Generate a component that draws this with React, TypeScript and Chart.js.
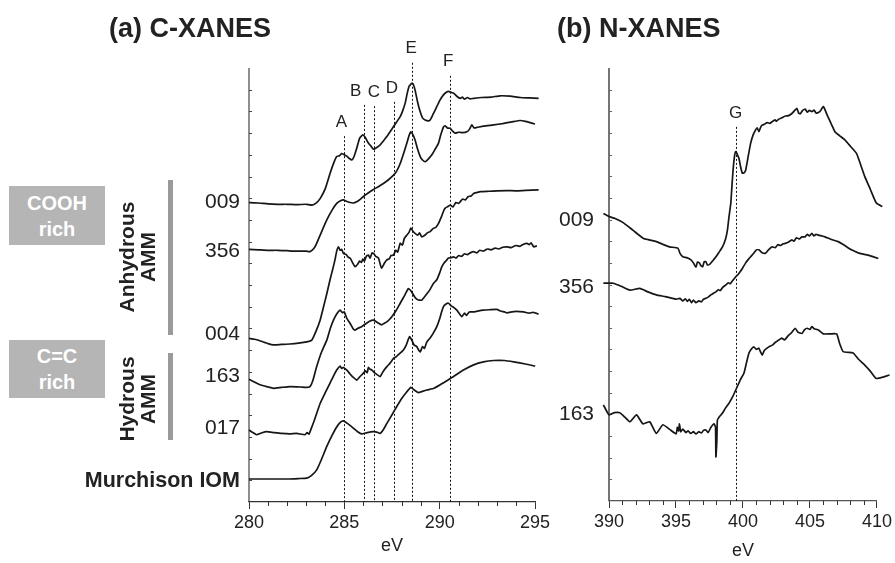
import React, { useEffect, useRef } from "react";
import { Chart, registerables } from "chart.js";

Chart.register(...registerables);

const FONT = 'Arial, "Liberation Sans", Helvetica, sans-serif';

// ---------- C-XANES (energy eV, normalized absorbance + offset) ----------
const cEnergyTicks = [280, 285, 290, 295];

const c009: number[][] = [
  [280.0, 6.9], [280.5, 6.89], [281.0, 6.87], [281.5, 6.86], [282.0, 6.86], [282.5, 6.85], [283.0, 6.86], [283.3, 6.84],
  [283.5, 6.88], [283.73, 6.99], [284.0, 7.22], [284.25, 7.57], [284.45, 7.82], [284.6, 7.96], [284.75, 7.98], [284.86, 8.03],
  [285.0, 8.0], [285.13, 7.97], [285.25, 7.92], [285.39, 7.88], [285.5, 7.95], [285.65, 8.15], [285.8, 8.38], [285.97, 8.46],
  [286.1, 8.4], [286.26, 8.27], [286.4, 8.2], [286.53, 8.13], [286.7, 8.17], [286.88, 8.23], [287.05, 8.32], [287.23, 8.42],
  [287.4, 8.53], [287.58, 8.65], [287.75, 8.76], [287.93, 8.88], [288.05, 9.0], [288.19, 9.19], [288.3, 9.42], [288.4, 9.58],
  [288.54, 9.65], [288.62, 9.62], [288.71, 9.49], [288.85, 9.2], [288.98, 8.99], [289.1, 8.85], [289.24, 8.8], [289.4, 8.78],
  [289.5, 8.8], [289.65, 8.93], [289.85, 9.11], [290.0, 9.25], [290.2, 9.38], [290.35, 9.44], [290.46, 9.46], [290.6, 9.44],
  [290.73, 9.42], [290.9, 9.35], [291.08, 9.3], [291.2, 9.33], [291.3, 9.28], [291.45, 9.32], [291.6, 9.29], [291.78, 9.3],
  [292.2, 9.32], [292.7, 9.33], [293.18, 9.36], [293.7, 9.35], [294.23, 9.32], [294.7, 9.31], [295.19, 9.3],
];

const c356: number[][] = [
  [280.0, 5.82], [280.5, 5.81], [281.0, 5.8], [281.5, 5.8], [282.0, 5.79], [282.5, 5.78], [283.0, 5.78], [283.2, 5.77],
  [283.4, 5.84], [283.55, 5.96], [283.8, 6.22], [284.08, 6.5], [284.35, 6.72], [284.6, 6.88], [284.8, 6.94], [284.95, 6.96],
  [285.1, 6.93], [285.3, 6.9], [285.45, 6.89], [285.65, 6.92], [285.85, 6.98], [286.0, 7.04], [286.25, 7.12], [286.53, 7.2],
  [286.8, 7.27], [287.05, 7.34], [287.3, 7.42], [287.58, 7.53], [287.75, 7.63], [287.93, 7.8], [288.1, 8.02], [288.28, 8.27],
  [288.4, 8.45], [288.49, 8.53], [288.6, 8.46], [288.71, 8.34], [288.85, 8.12], [288.98, 7.96], [289.1, 7.88], [289.24, 7.84],
  [289.4, 7.9], [289.59, 8.0], [289.75, 8.12], [289.94, 8.27], [290.05, 8.45], [290.11, 8.53], [290.2, 8.64], [290.29, 8.67],
  [290.4, 8.62], [290.55, 8.61], [290.65, 8.56], [290.81, 8.5], [291.0, 8.52], [291.2, 8.51], [291.43, 8.53], [291.55, 8.58],
  [291.69, 8.69], [291.8, 8.62], [291.95, 8.63], [292.3, 8.66], [292.83, 8.69], [293.3, 8.72], [293.8, 8.76], [294.23, 8.79],
  [294.5, 8.77], [294.75, 8.74], [295.0, 8.71], [295.19, 8.69],
];

const c004: number[][] = [
  [280.0, 3.77], [280.3, 3.75], [280.6, 3.71], [281.0, 3.65], [281.28, 3.62], [281.7, 3.63], [282.15, 3.64], [282.6, 3.66],
  [283.03, 3.69], [283.29, 3.73], [283.5, 3.92], [283.73, 4.19], [283.9, 4.48], [284.08, 4.8], [284.25, 5.12], [284.4, 5.38],
  [284.51, 5.58], [284.6, 5.78], [284.69, 5.88], [284.78, 5.8], [284.86, 5.82], [284.95, 5.73], [285.1, 5.7], [285.2, 5.64],
  [285.3, 5.62], [285.45, 5.5], [285.56, 5.42], [285.7, 5.48], [285.8, 5.55], [285.9, 5.52], [285.97, 5.6], [286.05, 5.55],
  [286.15, 5.66], [286.26, 5.69], [286.35, 5.62], [286.45, 5.74], [286.53, 5.73], [286.65, 5.66], [286.79, 5.62], [286.9, 5.45],
  [286.96, 5.39], [287.1, 5.5], [287.23, 5.58], [287.35, 5.6], [287.45, 5.68], [287.58, 5.69], [287.7, 5.8], [287.8, 5.76],
  [287.93, 5.96], [288.05, 5.92], [288.15, 6.08], [288.28, 6.15], [288.4, 6.22], [288.49, 6.31], [288.6, 6.24], [288.71, 6.19],
  [288.85, 6.15], [288.95, 6.2], [289.06, 6.11], [289.2, 6.14], [289.35, 6.2], [289.5, 6.23], [289.65, 6.3], [289.8, 6.33],
  [289.94, 6.42], [290.1, 6.58], [290.2, 6.7], [290.29, 6.77], [290.4, 6.8], [290.55, 6.84], [290.7, 6.8], [290.85, 6.9],
  [291.0, 6.88], [291.08, 6.92], [291.2, 6.98], [291.35, 6.96], [291.5, 7.04], [291.65, 7.05], [291.78, 7.11], [291.95, 7.13],
  [292.13, 7.15], [292.6, 7.16], [293.0, 7.17], [293.53, 7.175], [294.0, 7.17], [294.5, 7.18], [295.19, 7.19],
];

const c163: number[][] = [
  [280.0, 2.83], [280.3, 2.76], [280.58, 2.7], [281.0, 2.65], [281.28, 2.62], [281.7, 2.64], [282.15, 2.66], [282.7, 2.65],
  [283.0, 2.64], [283.2, 2.66], [283.35, 2.8], [283.55, 3.12], [283.8, 3.45], [284.08, 3.73], [284.25, 3.98], [284.43, 4.19],
  [284.6, 4.33], [284.78, 4.42], [284.9, 4.36], [285.0, 4.38], [285.13, 4.23], [285.3, 4.12], [285.45, 4.0], [285.56, 3.96],
  [285.7, 4.0], [285.91, 4.04], [286.1, 4.1], [286.3, 4.16], [286.53, 4.19], [286.75, 4.13], [286.96, 4.08], [287.1, 4.12],
  [287.23, 4.15], [287.35, 4.2], [287.49, 4.27], [287.7, 4.4], [287.93, 4.58], [288.15, 4.75], [288.36, 4.92], [288.5, 4.86],
  [288.7, 4.72], [288.85, 4.66], [289.06, 4.65], [289.3, 4.78], [289.5, 4.9], [289.68, 5.04], [289.85, 5.12], [290.0, 5.28],
  [290.11, 5.42], [290.25, 5.52], [290.38, 5.58], [290.46, 5.62], [290.6, 5.63], [290.73, 5.65], [290.85, 5.62], [291.0, 5.68],
  [291.15, 5.66], [291.3, 5.72], [291.45, 5.7], [291.6, 5.74], [291.78, 5.77], [291.95, 5.74], [292.1, 5.8], [292.3, 5.78],
  [292.5, 5.83], [292.7, 5.81], [292.9, 5.85], [293.1, 5.83], [293.3, 5.87], [293.53, 5.88], [293.75, 5.86], [294.0, 5.91],
  [294.2, 5.89], [294.4, 5.94], [294.58, 5.96], [294.7, 5.93], [294.8, 5.97], [294.93, 5.88], [295.1, 5.9],
];

const c017: number[][] = [
  [280.0, 1.66], [280.2, 1.6], [280.4, 1.55], [280.65, 1.59], [280.93, 1.62], [281.3, 1.6], [281.7, 1.58], [282.15, 1.57],
  [282.5, 1.58], [282.94, 1.55], [283.05, 1.6], [283.15, 1.56], [283.2, 1.62], [283.4, 1.85], [283.73, 2.27], [284.0, 2.52],
  [284.25, 2.74], [284.45, 2.92], [284.6, 3.04], [284.7, 3.1], [284.78, 3.13], [284.85, 3.08], [284.95, 3.1], [285.13, 3.04],
  [285.3, 2.95], [285.45, 2.88], [285.65, 2.81], [285.8, 2.88], [286.0, 2.97], [286.1, 3.02], [286.2, 2.98], [286.26, 3.1],
  [286.35, 3.06], [286.45, 3.04], [286.53, 3.0], [286.7, 2.94], [286.88, 2.89], [287.0, 2.98], [287.1, 3.05], [287.23, 3.12],
  [287.4, 3.2], [287.58, 3.31], [287.7, 3.34], [287.85, 3.4], [288.0, 3.46], [288.1, 3.5], [288.25, 3.62], [288.35, 3.74],
  [288.42, 3.81], [288.55, 3.72], [288.65, 3.62], [288.8, 3.58], [288.9, 3.5], [288.98, 3.46], [289.1, 3.58], [289.2, 3.54],
  [289.33, 3.69], [289.5, 3.78], [289.65, 3.88], [289.85, 4.04], [290.0, 4.22], [290.1, 4.38], [290.2, 4.5], [290.3, 4.55],
  [290.46, 4.58], [290.6, 4.52], [290.75, 4.48], [290.9, 4.42], [291.0, 4.36], [291.16, 4.27], [291.3, 4.35], [291.4, 4.3],
  [291.55, 4.38], [291.78, 4.38], [292.0, 4.4], [292.3, 4.42], [292.6, 4.43], [293.0, 4.44], [293.2, 4.4], [293.4, 4.38],
  [293.53, 4.36], [293.8, 4.38], [294.0, 4.39], [294.4, 4.38], [294.7, 4.35], [294.9, 4.37], [295.19, 4.33],
];

const cMurchison: number[][] = [
  [280.0, 0.53], [281.0, 0.53], [282.0, 0.53], [282.6, 0.54], [283.03, 0.55], [283.3, 0.62], [283.55, 0.74], [283.8, 0.98],
  [284.08, 1.28], [284.35, 1.53], [284.6, 1.73], [284.8, 1.84], [284.95, 1.87], [285.2, 1.8], [285.48, 1.7], [285.7, 1.62],
  [285.91, 1.57], [286.2, 1.6], [286.53, 1.62], [286.7, 1.61], [286.88, 1.58], [287.05, 1.67], [287.23, 1.81], [287.5, 2.01],
  [287.75, 2.2], [288.0, 2.38], [288.28, 2.54], [288.49, 2.64], [288.7, 2.57], [288.89, 2.52], [289.1, 2.55], [289.33, 2.58],
  [289.7, 2.62], [290.03, 2.7], [290.4, 2.8], [290.73, 2.89], [291.2, 3.03], [291.78, 3.16], [292.3, 3.23], [292.83, 3.26],
  [293.4, 3.26], [293.88, 3.23], [294.5, 3.18], [295.01, 3.13],
];

const cPeakLabels = ["A", "B", "C", "D", "E", "F"];
const cPeakEnergies = [285.0, 286.05, 286.55, 287.6, 288.55, 290.55];
const cPeakTops = [8.43, 9.15, 9.12, 9.22, 10.12, 9.82];
const cPeakLabelEnergies = [284.85, 285.6, 286.55, 287.5, 288.5, 290.45];

// ---------- N-XANES ----------
const nEnergyTicks = [390, 395, 400, 405, 410];

const n009: number[][] = [
  [389.58, 6.64], [390.0, 6.57], [390.5, 6.52], [391.06, 6.43], [391.8, 6.25], [392.54, 6.07], [393.0, 6.03], [393.53, 5.99],
  [394.0, 5.93], [394.52, 5.87], [395.14, 5.84], [395.3, 5.72], [395.51, 5.64], [395.8, 5.62], [396.12, 5.57], [396.3, 5.5],
  [396.49, 5.4], [396.6, 5.52], [396.74, 5.5], [396.85, 5.44], [396.99, 5.41], [397.1, 5.52], [397.23, 5.53], [397.35, 5.45],
  [397.53, 5.47], [397.75, 5.55], [397.98, 5.64], [398.2, 5.74], [398.47, 5.87], [398.7, 6.05], [398.84, 6.26], [398.95, 6.55],
  [399.09, 6.88], [399.18, 7.3], [399.26, 7.64], [399.36, 7.95], [399.46, 8.07], [399.58, 8.0], [399.7, 7.91], [399.82, 7.72],
  [399.95, 7.57], [400.08, 7.58], [400.2, 7.64], [400.4, 7.98], [400.57, 8.26], [400.75, 8.45], [400.94, 8.57], [401.05, 8.62],
  [401.19, 8.53], [401.3, 8.62], [401.43, 8.68], [401.6, 8.7], [401.8, 8.74], [402.0, 8.72], [402.17, 8.76], [402.4, 8.8],
  [402.5, 8.77], [402.67, 8.82], [402.9, 8.85], [403.16, 8.89], [403.4, 8.9], [403.65, 8.95], [403.8, 9.0], [404.02, 9.07],
  [404.15, 8.96], [404.27, 8.94], [404.45, 9.02], [404.64, 9.05], [404.8, 8.98], [404.95, 9.02], [405.14, 8.99], [405.3, 9.03],
  [405.45, 8.96], [405.63, 8.97], [405.8, 9.02], [406.0, 9.11], [406.3, 8.9], [406.6, 8.7], [406.86, 8.53], [407.2, 8.44],
  [407.6, 8.34], [408.0, 8.2], [408.47, 8.03], [408.8, 7.75], [409.09, 7.49], [409.5, 7.2], [409.95, 6.88], [410.4, 6.8],
  [410.94, 6.72],
];

const n356: number[][] = [
  [389.58, 5.03], [390.0, 5.03], [390.32, 5.03], [390.9, 4.96], [391.56, 4.87], [392.3, 4.91], [392.9, 4.83], [393.53, 4.76],
  [394.2, 4.72], [395.01, 4.66], [395.3, 4.68], [395.5, 4.62], [395.7, 4.67], [395.85, 4.61], [396.0, 4.66], [396.15, 4.58],
  [396.3, 4.64], [396.49, 4.58], [396.7, 4.62], [396.9, 4.6], [397.05, 4.66], [397.23, 4.68], [397.45, 4.72], [397.6, 4.76],
  [397.8, 4.8], [397.98, 4.83], [398.15, 4.88], [398.3, 4.86], [398.5, 4.94], [398.72, 4.99], [398.9, 5.04], [399.05, 5.02],
  [399.25, 5.1], [399.46, 5.18], [399.6, 5.22], [399.8, 5.3], [399.95, 5.37], [400.2, 5.5], [400.4, 5.58], [400.57, 5.64],
  [400.8, 5.72], [401.0, 5.8], [401.19, 5.8], [401.4, 5.74], [401.68, 5.72], [401.9, 5.8], [402.17, 5.87], [402.4, 5.85],
  [402.6, 5.92], [402.8, 5.9], [403.0, 5.94], [403.16, 5.95], [403.4, 5.98], [403.65, 6.03], [403.8, 6.0], [404.0, 6.08],
  [404.2, 6.05], [404.4, 6.1], [404.64, 6.1], [404.8, 6.16], [404.95, 6.12], [405.14, 6.18], [405.3, 6.12], [405.45, 6.16],
  [405.63, 6.14], [405.9, 6.12], [406.12, 6.1], [406.6, 6.04], [407.11, 5.99], [407.6, 5.9], [408.1, 5.8], [408.7, 5.72],
  [409.33, 5.68], [410.1, 5.6], [410.94, 5.49],
];

const n163: number[][] = [
  [389.58, 2.22], [390.0, 1.99], [390.4, 2.04], [390.81, 2.04], [391.2, 1.93], [391.56, 1.83], [392.05, 1.99], [392.54, 1.78],
  [393.04, 1.83], [393.53, 1.56], [394.02, 1.76], [394.5, 1.66], [395.01, 1.55], [395.1, 1.7], [395.2, 1.62], [395.26, 1.78],
  [395.35, 1.6], [395.5, 1.66], [395.75, 1.58], [395.9, 1.62], [396.1, 1.56], [396.3, 1.6], [396.49, 1.55], [396.7, 1.6],
  [396.9, 1.57], [397.05, 1.63], [397.23, 1.64], [397.4, 1.58], [397.6, 1.7], [397.85, 1.78], [397.95, 1.7], [397.98, 1.02],
  [398.05, 1.4], [398.09, 1.87], [398.25, 1.95], [398.47, 2.03], [398.7, 2.15], [398.96, 2.26], [399.25, 2.42], [399.57, 2.64],
  [399.8, 2.8], [400.07, 2.95], [400.25, 3.18], [400.44, 3.41], [400.6, 3.5], [400.81, 3.56], [401.0, 3.5], [401.19, 3.53],
  [401.3, 3.45], [401.43, 3.37], [401.6, 3.48], [401.93, 3.56], [402.2, 3.6], [402.4, 3.66], [402.67, 3.72], [402.9, 3.76],
  [403.1, 3.72], [403.41, 3.83], [403.6, 3.88], [403.9, 3.99], [404.1, 3.9], [404.4, 3.87], [404.6, 3.96], [404.8, 3.99],
  [405.0, 3.96], [405.14, 4.03], [405.3, 3.98], [405.63, 3.95], [406.0, 3.86], [406.5, 3.86], [406.99, 3.86], [407.2, 3.65],
  [407.48, 3.45], [408.22, 3.42], [408.6, 3.28], [409.09, 3.14], [409.5, 3.0], [409.95, 2.83], [410.94, 2.91],
];

const nPeakLabels = ["G"];
const nPeakEnergies = [399.5];
const nPeakTops = [8.64];
const nPeakLabelEnergies = [399.45];

// ---------- drawing helpers ----------
type OverlayCfg = {
  peakE: number[];
  peakTop: number[];
  peakLabel: string[];
  peakLabelE: number[];
  axisColor: string;
  axisWidth: number;
  evOffset: number;
};

function makeOverlay(cfg: OverlayCfg) {
  return {
    id: "overlay",
    beforeDatasetsDraw(chart: any) {
      const { ctx, chartArea } = chart;
      const { left, top, right, bottom } = chartArea;
      const xs = chart.scales.x;
      const ys = chart.scales.y;
      ctx.save();
      // y axis line + small inward ticks
      ctx.strokeStyle = cfg.axisColor;
      ctx.lineWidth = cfg.axisWidth;
      ctx.beginPath();
      ctx.moveTo(left, top);
      ctx.lineTo(left, bottom);
      ctx.stroke();
      ctx.lineWidth = 1;
      ctx.beginPath();
      for (let i = 1; i < 20; i++) {
        const py = Math.round(ys.getPixelForValue(ys.min + ((ys.max - ys.min) * i) / 20)) + 0.5;
        ctx.moveTo(left, py);
        ctx.lineTo(left + 3, py);
      }
      ctx.stroke();
      // minor x ticks
      ctx.strokeStyle = "#333";
      ctx.beginPath();
      for (let v = Math.ceil(xs.min); v <= xs.max; v++) {
        if (v % 5 === 0) continue;
        const px = Math.round(xs.getPixelForValue(v)) + 0.5;
        ctx.moveTo(px, bottom);
        ctx.lineTo(px, bottom + 4);
      }
      ctx.stroke();
      // dashed peak markers
      ctx.strokeStyle = "#111";
      ctx.lineWidth = 1;
      ctx.setLineDash([2, 2]);
      cfg.peakE.forEach((e, i) => {
        const px = Math.round(xs.getPixelForValue(e)) + 0.5;
        const pt = ys.getPixelForValue(cfg.peakTop[i]);
        ctx.beginPath();
        ctx.moveTo(px, pt);
        ctx.lineTo(px, bottom);
        ctx.stroke();
      });
      ctx.setLineDash([]);
      ctx.fillStyle = "#222";
      ctx.font = `17px ${FONT}`;
      ctx.textAlign = "center";
      ctx.textBaseline = "middle";
      cfg.peakE.forEach((_e, i) => {
        const px = xs.getPixelForValue(cfg.peakLabelE[i]);
        const pt = ys.getPixelForValue(cfg.peakTop[i]);
        ctx.fillText(cfg.peakLabel[i], px, pt - 14);
      });
      ctx.font = `18px ${FONT}`;
      ctx.fillText("eV", (left + right) / 2, bottom + cfg.evOffset);
      ctx.restore();
    },
  };
}

function makeDatasets(series: number[][][]) {
  return series.map((s) => ({
    data: s.map(([x, y]) => ({ x, y })),
    borderColor: "#161616",
    borderWidth: 1.7,
    pointRadius: 0,
    tension: 0.15,
    fill: false,
    clip: false as const,
  }));
}

function makeConfig(
  series: number[][][],
  ticks: number[],
  pad: { left: number; right: number },
  xHeight: number,
  overlay: OverlayCfg,
  axisColor: string
): any {
  return {
    type: "line",
    data: { datasets: makeDatasets(series) },
    options: {
      animation: false,
      responsive: false,
      maintainAspectRatio: false,
      events: [],
      layout: { padding: { left: pad.left, right: pad.right, top: 68, bottom: 0 } },
      plugins: { legend: { display: false }, tooltip: { enabled: false }, title: { display: false } },
      scales: {
        x: {
          type: "linear",
          min: ticks[0],
          max: ticks[ticks.length - 1],
          afterBuildTicks: (scale: any) => {
            scale.ticks = ticks.map((v) => ({ value: v }));
          },
          ticks: { color: "#222", font: { size: 18, family: FONT }, padding: 3, maxRotation: 0 },
          grid: { drawOnChartArea: false, tickLength: 7, color: "#333", tickWidth: 1 },
          border: { display: true, color: axisColor, width: 1.2 },
          afterFit: (scale: any) => {
            scale.height = xHeight;
          },
        },
        y: { display: false, min: 0, max: 10 },
      },
    },
    plugins: [makeOverlay(overlay)],
  };
}

function Txt(props: {
  x: number;
  y: number;
  text: string;
  size: number;
  bold?: boolean;
  align?: "left" | "right" | "center";
  color?: string;
}) {
  const { x, y, text, size, bold, align = "left", color = "#222" } = props;
  const style: React.CSSProperties = {
    position: "absolute",
    top: y - size / 2,
    fontSize: size,
    lineHeight: `${size}px`,
    fontWeight: bold ? "bold" : "normal",
    whiteSpace: "nowrap",
    color,
  };
  if (align === "right") style.right = 895 - x;
  else if (align === "center") {
    style.left = x;
    style.transform = "translateX(-50%)";
  } else style.left = x;
  return <div style={style}>{text}</div>;
}

export default function App() {
  const leftRef = useRef<HTMLCanvasElement>(null);
  const rightRef = useRef<HTMLCanvasElement>(null);

  useEffect(() => {
    const left = new Chart(
      leftRef.current as HTMLCanvasElement,
      makeConfig(
        [c009, c356, c004, c163, c017, cMurchison],
        cEnergyTicks,
        { left: 249, right: 20 },
        61,
        {
          peakE: cPeakEnergies,
          peakTop: cPeakTops,
          peakLabel: cPeakLabels,
          peakLabelE: cPeakLabelEnergies,
          axisColor: "#444",
          axisWidth: 1.2,
          evOffset: 44,
        },
        "#333"
      )
    );
    const right = new Chart(
      rightRef.current as HTMLCanvasElement,
      makeConfig(
        [n009, n356, n163],
        nEnergyTicks,
        { left: 54, right: 16 },
        62,
        {
          peakE: nPeakEnergies,
          peakTop: nPeakTops,
          peakLabel: nPeakLabels,
          peakLabelE: nPeakLabelEnergies,
          axisColor: "#666",
          axisWidth: 1.8,
          evOffset: 50,
        },
        "#555"
      )
    );
    return () => {
      left.destroy();
      right.destroy();
    };
  }, []);

  const box: React.CSSProperties = {
    position: "absolute",
    left: 9,
    width: 96,
    background: "#b5b5b5",
    color: "#fff",
    fontWeight: "bold",
    fontSize: 20,
    lineHeight: "26px",
    textAlign: "center",
    display: "flex",
    flexDirection: "column",
    justifyContent: "center",
  };
  const rot: React.CSSProperties = {
    position: "absolute",
    transform: "translate(-50%, -50%) rotate(-90deg)",
    fontWeight: "bold",
    fontSize: 21,
    lineHeight: "21px",
    textAlign: "center",
    whiteSpace: "nowrap",
    color: "#222",
  };
  const bar: React.CSSProperties = { position: "absolute", left: 168, width: 5, background: "#9a9a9a" };

  return (
    <div
      style={{
        position: "absolute",
        left: 0,
        top: 0,
        width: 895,
        height: 563,
        background: "#fff",
        fontFamily: FONT,
        overflow: "hidden",
      }}
    >
      <canvas ref={leftRef} width={555} height={563} style={{ position: "absolute", left: 0, top: 0, width: 555, height: 563 }} />
      <canvas ref={rightRef} width={340} height={563} style={{ position: "absolute", left: 555, top: 0, width: 340, height: 563 }} />

      <Txt x={109} y={28} text="(a) C-XANES" size={27} bold />
      <Txt x={557} y={28} text="(b) N-XANES" size={27} bold />

      <div style={{ ...box, top: 186, height: 59 }}>
        <div>COOH</div>
        <div>rich</div>
      </div>
      <div style={{ ...box, top: 340, height: 58 }}>
        <div>C=C</div>
        <div>rich</div>
      </div>

      <div style={{ ...rot, left: 137, top: 257 }}>
        Anhydrous
        <br />
        AMM
      </div>
      <div style={{ ...rot, left: 137, top: 399 }}>
        Hydrous
        <br />
        AMM
      </div>
      <div style={{ ...bar, top: 180, height: 155 }} />
      <div style={{ ...bar, top: 353, height: 87 }} />

      <Txt x={240} y={200} text="009" size={21} align="right" />
      <Txt x={240} y={249} text="356" size={21} align="right" />
      <Txt x={240} y={332} text="004" size={21} align="right" />
      <Txt x={240} y={374} text="163" size={21} align="right" />
      <Txt x={240} y={426} text="017" size={21} align="right" />
      <Txt x={240} y={481} text="Murchison IOM" size={21.5} bold align="right" />

      <Txt x={594} y={218} text="009" size={21} align="right" />
      <Txt x={594} y={285} text="356" size={21} align="right" />
      <Txt x={594} y={412} text="163" size={21} align="right" />
    </div>
  );
}
